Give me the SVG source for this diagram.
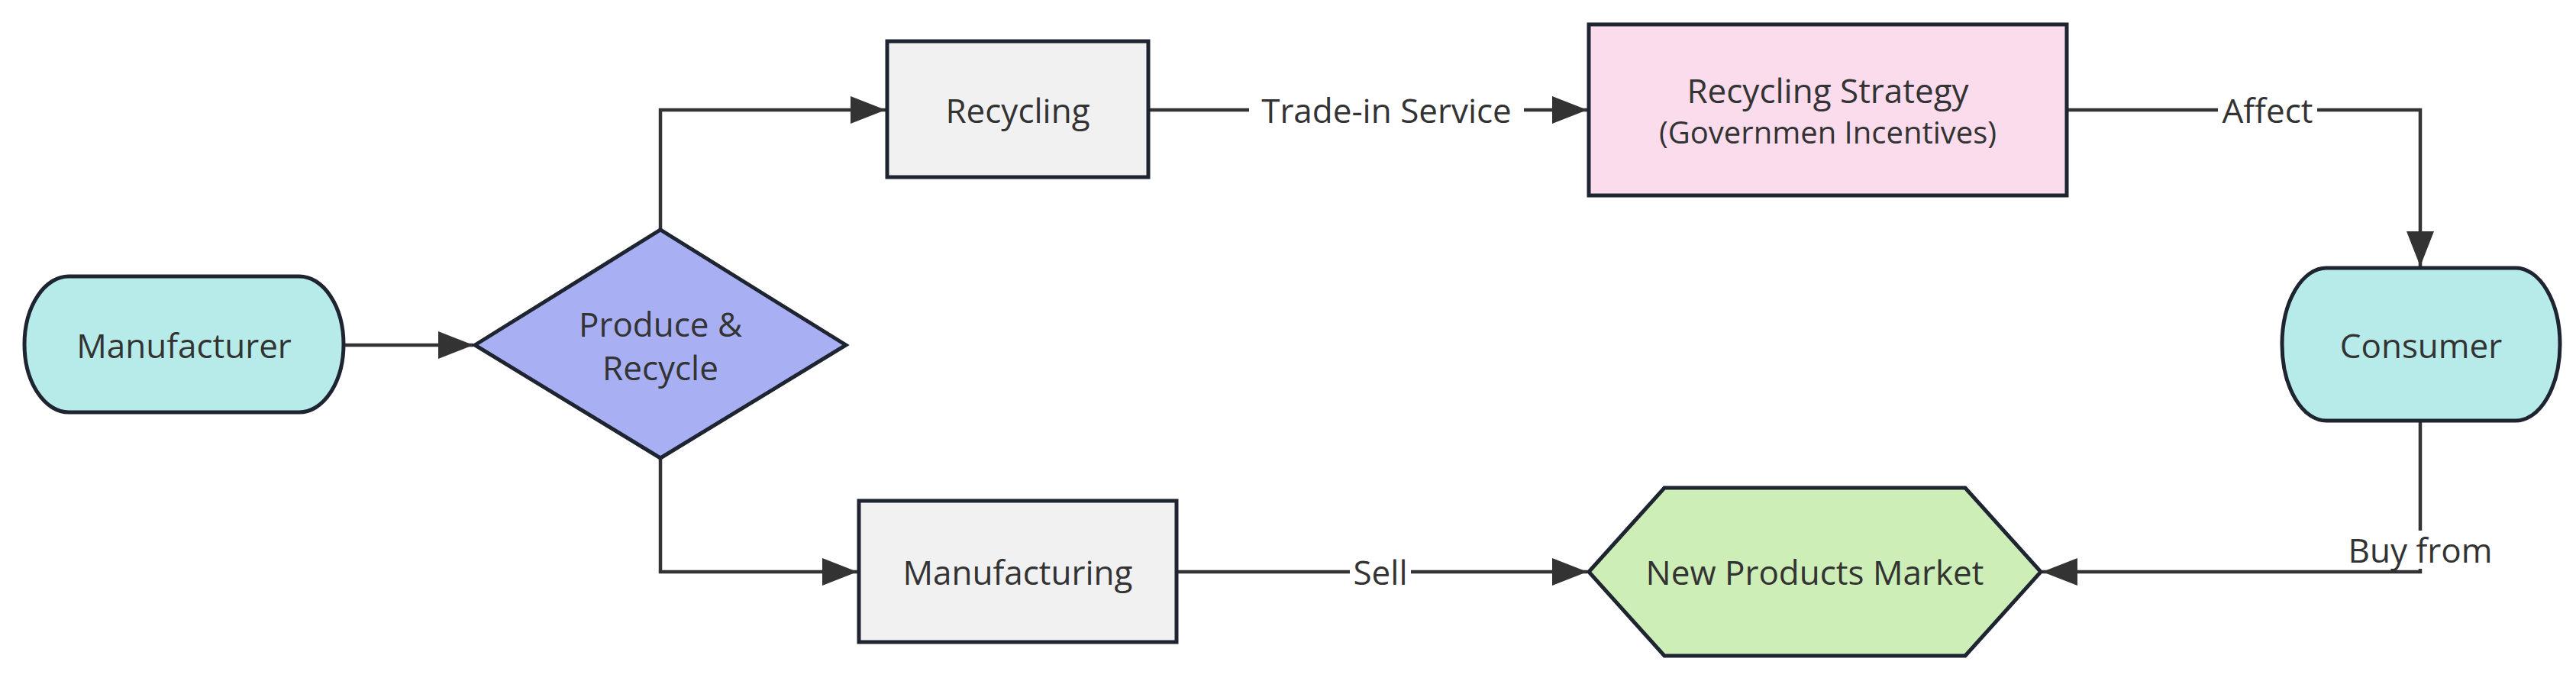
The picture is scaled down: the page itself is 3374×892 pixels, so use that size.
<svg xmlns="http://www.w3.org/2000/svg" width="3374" height="892" viewBox="0 0 3374 892">
<style>
.n{stroke:#1e2430;stroke-width:5}
.t{font-family:"Open Sans","Liberation Sans",sans-serif;font-size:44px;fill:#333;text-anchor:middle;dominant-baseline:central}
.e{fill:none;stroke:#333;stroke-width:4.5}
.lb{fill:#fff}
</style>
<defs><marker id="a" viewBox="0 0 10 10" refX="10" refY="5" markerWidth="10" markerHeight="10" markerUnits="userSpaceOnUse" orient="auto"><path d="M0,0L10,5L0,10z" fill="#333" transform="scale(1)"/></marker>
<marker id="b" viewBox="0 0 10 10" refX="10" refY="5" markerWidth="46" markerHeight="36" markerUnits="userSpaceOnUse" orient="auto" preserveAspectRatio="none"><path d="M0,0L10,5L0,10z" fill="#333"/></marker></defs>
<rect width="3374" height="892" fill="#fff"/>
<g id="connectors">
<path class="e" d="M450,452H620" marker-end="url(#b)"/>
<path class="e" d="M865,301V144H1160" marker-end="url(#b)"/>
<path class="e" d="M865,600V749H1123" marker-end="url(#b)"/>
<path class="e" d="M1504,144H2079" marker-end="url(#b)"/>
<path class="e" d="M2707,144H3170V349" marker-end="url(#b)"/>
<path class="e" d="M3170,551V749H2675" marker-end="url(#b)"/>
<path class="e" d="M1541,749H2079" marker-end="url(#b)"/>
<rect class="lb" x="1636" y="118" width="360" height="52"/><text class="t" x="1816" y="144">Trade-in Service</text>
<rect class="lb" x="2905" y="118" width="130" height="52"/><text class="t" x="2970" y="144">Affect</text>
<rect class="lb" x="3072" y="695" width="196" height="50"/><text class="t" x="3170" y="720">Buy from</text>
<rect class="lb" x="1768" y="723" width="80" height="52"/><text class="t" x="1808" y="749">Sell</text>
</g>
<g id="manufacturer"><rect class="n" x="32" y="362" width="418" height="178" rx="58" ry="89" fill="#b6ebea"/><text class="t" x="241" y="452">Manufacturer</text></g>
<g id="produce"><polygon class="n" points="622,452 865,301 1108,452 865,600" fill="#a8b0f3"/><text class="t" x="865" y="424">Produce &amp;</text><text class="t" x="865" y="481">Recycle</text></g>
<g id="recycling"><rect class="n" x="1162" y="54" width="342" height="178" fill="#f1f1f1"/><text class="t" x="1333" y="144">Recycling</text></g>
<g id="manufacturing"><rect class="n" x="1125" y="656" width="416" height="185" fill="#f1f1f1"/><text class="t" x="1333" y="749">Manufacturing</text></g>
<g id="strategy"><rect class="n" x="2081" y="32" width="626" height="224" fill="#fadcec"/><text class="t" x="2394" y="118" font-size="40">Recycling Strategy</text><text class="t" x="2394" y="172" style="font-size:40px">(Governmen Incentives)</text></g>
<g id="consumer"><rect class="n" x="2989" y="351" width="364" height="200" rx="58" ry="100" fill="#b6ebea"/><text class="t" x="3171" y="452">Consumer</text></g>
<g id="market"><polygon class="n" points="2081,749 2180,639 2574,639 2673,749 2574,859 2180,859" fill="#cdeeb6"/><text class="t" x="2377" y="749">New Products Market</text></g>
</svg>
